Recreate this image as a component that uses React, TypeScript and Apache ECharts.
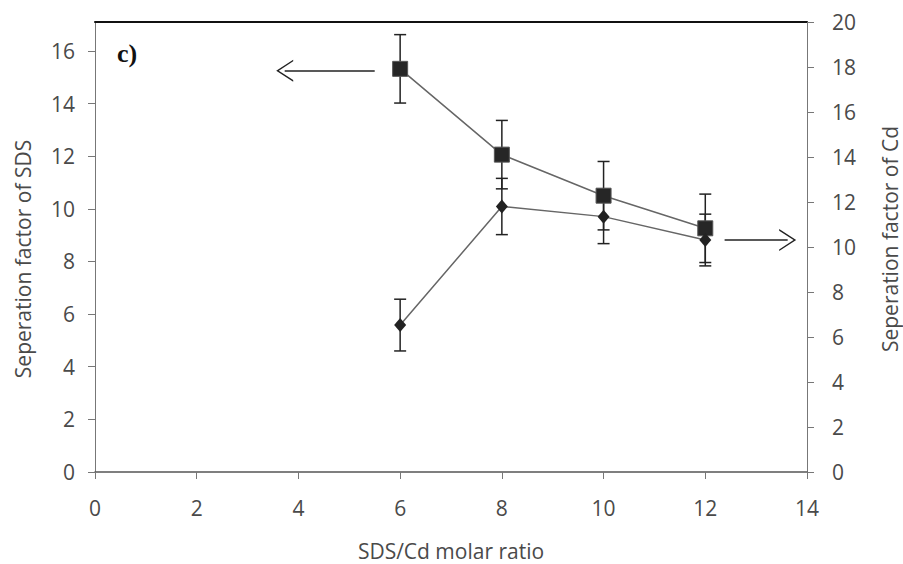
import React, { useEffect, useRef } from "react";
import * as echarts from "echarts";

// SDS/Cd molar ratios
const ratios = [6, 8, 10, 12];
// Separation factor of SDS (left axis) and its error
const sdsValues = [15.32, 12.06, 10.5, 9.26];
const sdsErrors = [1.3, 1.3, 1.3, 1.3];
// Separation factor of Cd (right axis) and its error
const cdValues = [6.53, 11.8, 11.35, 10.31];
const cdErrors = [1.15, 1.25, 1.2, 1.15];

const xTicks = [0, 2, 4, 6, 8, 10, 12, 14];
const sdsTicks = [0, 2, 4, 6, 8, 10, 12, 14, 16];

// Arrow annotations pointing to each series' axis (data coordinates)
const sdsArrow = { from: [5.5, 15.25], to: [3.73, 15.25] };
const cdArrow = { from: [12.38, 10.31], to: [13.62, 10.31] };

const FONT = "'Open Sans', 'DejaVu Sans', sans-serif";
const TXT = "#4a4a4a";
const ARROW_HEAD = "path://M11,0 L22,17 L20.4,17 L11,2.6 L1.6,17 L0,17 Z";

function errorBarSeries(values: number[], errors: number[], yAxisIndex: number) {
  return {
    type: "custom",
    yAxisIndex,
    z: 1,
    silent: true,
    data: ratios.map((x, i) => [x, values[i] - errors[i], values[i] + errors[i]]),
    encode: { x: 0, y: [1, 2] },
    renderItem: (params: any, api: any) => {
      const x = api.value(0);
      const lo = api.coord([x, api.value(1)]);
      const hi = api.coord([x, api.value(2)]);
      const half = 6;
      const style = { stroke: "#222", lineWidth: 1.5, fill: "none" };
      return {
        type: "group",
        children: [
          { type: "line", shape: { x1: lo[0], y1: lo[1], x2: hi[0], y2: hi[1] }, style },
          { type: "line", shape: { x1: lo[0] - half, y1: lo[1], x2: lo[0] + half, y2: lo[1] }, style },
          { type: "line", shape: { x1: hi[0] - half, y1: hi[1], x2: hi[0] + half, y2: hi[1] }, style },
        ],
      };
    },
  };
}

function arrowLine(a: { from: number[]; to: number[] }) {
  return {
    silent: true,
    symbol: ["none", ARROW_HEAD],
    symbolSize: [22, 17],
    label: { show: false },
    lineStyle: { color: "#222", width: 1.5, type: "solid" },
    emphasis: { disabled: true },
    data: [[{ coord: a.from }, { coord: a.to }]],
  };
}

export default function App() {
  const ref = useRef<HTMLDivElement>(null);

  useEffect(() => {
    if (!ref.current) return;
    const chart = echarts.init(ref.current, undefined, { renderer: "svg" });
    const axisLabel = { fontFamily: FONT, fontSize: 21, color: TXT };
    const nameStyle = { fontFamily: FONT, fontSize: 21, color: TXT };
    chart.setOption({
      animation: false,
      backgroundColor: "#ffffff",
      grid: {
        left: 95,
        right: 96,
        top: 22,
        bottom: 92,
        containLabel: false,
        outerBoundsMode: "none",
      },
      graphic: [
        {
          type: "text",
          left: 117,
          top: 40,
          style: {
            text: "c)",
            font: "bold 26px 'Liberation Serif', 'DejaVu Serif', serif",
            fill: "#111",
          },
        },
      ],
      xAxis: [
        {
          type: "value",
          min: xTicks[0],
          max: xTicks[xTicks.length - 1],
          interval: 2,
          name: "SDS/Cd molar ratio",
          nameLocation: "middle",
          nameGap: 68,
          nameTextStyle: nameStyle,
          axisLine: { show: true, onZero: false, lineStyle: { color: "#555", width: 1.5 } },
          axisTick: { show: true, length: 7, lineStyle: { color: "#777" } },
          axisLabel: { ...axisLabel, margin: 25 },
          splitLine: { show: false },
        },
        {
          type: "value",
          position: "top",
          min: xTicks[0],
          max: xTicks[xTicks.length - 1],
          axisLine: { show: true, onZero: false, lineStyle: { color: "#111", width: 2 } },
          axisTick: { show: false },
          axisLabel: { show: false },
          splitLine: { show: false },
        },
      ],
      yAxis: [
        {
          type: "value",
          min: 0,
          max: 17.1,
          interval: 2,
          name: "Seperation factor of SDS",
          nameLocation: "middle",
          nameRotate: 90,
          nameGap: 62,
          nameTextStyle: { ...nameStyle, padding: [0, 24, 0, 0] },
          axisLine: { show: true, onZero: false, lineStyle: { color: "#777", width: 1 } },
          axisTick: {
            show: true,
            length: 7,
            customValues: sdsTicks,
            lineStyle: { color: "#777" },
          },
          axisLabel: { ...axisLabel, margin: 20, customValues: sdsTicks },
          splitLine: { show: false },
        },
        {
          type: "value",
          min: 0,
          max: 20,
          interval: 2,
          position: "right",
          name: "Seperation factor of Cd",
          nameLocation: "middle",
          nameRotate: 90,
          nameGap: 72,
          nameTextStyle: { ...nameStyle, padding: [0, 0, 0, 16] },
          axisLine: { show: true, onZero: false, lineStyle: { color: "#777", width: 1 } },
          axisTick: { show: true, length: 7, lineStyle: { color: "#777" } },
          axisLabel: { ...axisLabel, margin: 25 },
          splitLine: { show: false },
        },
      ],
      series: [
        errorBarSeries(sdsValues, sdsErrors, 0),
        errorBarSeries(cdValues, cdErrors, 1),
        {
          type: "line",
          name: "SDS",
          yAxisIndex: 0,
          z: 3,
          data: ratios.map((x, i) => [x, sdsValues[i]]),
          symbol: "rect",
          symbolSize: 15,
          itemStyle: { color: "#262626", borderColor: "#555", borderWidth: 1 },
          lineStyle: { color: "#666", width: 1.5 },
          markLine: arrowLine(sdsArrow),
        },
        {
          type: "line",
          name: "Cd",
          yAxisIndex: 1,
          z: 3,
          data: ratios.map((x, i) => [x, cdValues[i]]),
          symbol: "diamond",
          symbolSize: [12, 14],
          itemStyle: { color: "#222" },
          lineStyle: { color: "#666", width: 1.5 },
          markLine: arrowLine(cdArrow),
        },
      ],
    });
    return () => chart.dispose();
  }, []);

  return (
    <div
      ref={ref}
      style={{ position: "fixed", left: 0, top: 0, width: 903, height: 564, background: "#fff" }}
    />
  );
}
